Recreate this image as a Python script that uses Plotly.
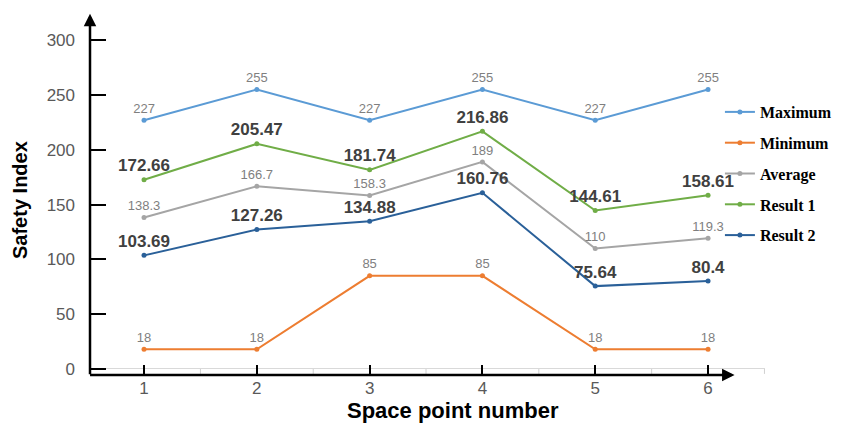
import plotly.graph_objects as go

# Safety index at each space point
points = [1, 2, 3, 4, 5, 6]
maximum = [227, 255, 227, 255, 227, 255]
minimum = [18, 18, 85, 85, 18, 18]
average = [138.3, 166.7, 158.3, 189, 110, 119.3]
result1 = [172.66, 205.47, 181.74, 216.86, 144.61, 158.61]
result2 = [103.69, 127.26, 134.88, 160.76, 75.64, 80.4]
y_ticks = [0, 50, 100, 150, 200, 250, 300]

series = [
    ("Maximum", maximum, "#5B9BD5", False),
    ("Minimum", minimum, "#ED7D31", False),
    ("Average", average, "#A5A5A5", False),
    ("Result 1", result1, "#70AD47", True),
    ("Result 2", result2, "#2A6099", True),
]

fig = go.Figure()
for i, (name, vals, color, emphasis) in enumerate(series):
    fig.add_trace(go.Scatter(
        x=points, y=vals, name=name, mode="lines+markers+text",
        line=dict(color=color, width=2),
        marker=dict(color=color, size=5),
        text=[f"{v:g}" for v in vals],
        textposition="top center",
        textfont=dict(family="Liberation Sans", size=17 if emphasis else 13,
                      color="#404040" if emphasis else "#7F7F7F",
                      weight="bold" if emphasis else "normal"),
        legendgroup=f"g{i}",
    ))

x_lo, x_hi = 0.521, 6.505
y_lo, y_hi = -6.4, 325.8

shapes = []
# small grey category-boundary ticks along the zero line
for k in range(len(points)):
    b = points[k] + 0.5
    shapes.append(dict(type="line", xref="x", yref="y", x0=b, x1=b, y0=0, y1=-4.5,
                       line=dict(color="#D0D0D0", width=1)))

annotations = [
    # vertical axis with arrowhead
    dict(xref="paper", yref="paper", x=0, y=0.995, ax=0, ay=362, axref="pixel", ayref="pixel",
         text="", showarrow=True, arrowhead=2, arrowsize=1, arrowwidth=2.5, arrowcolor="#000"),
    # horizontal axis with arrowhead
    dict(xref="x", yref="y", x=6.235, y=-5.5, ax=-646, ay=0, axref="pixel", ayref="pixel",
         text="", showarrow=True, arrowhead=2, arrowsize=1, arrowwidth=2.5, arrowcolor="#000"),
    dict(xref="paper", yref="paper", x=-0.1037, y=0.4835, text="Safety Index", textangle=-90,
         xanchor="center", yanchor="middle", showarrow=False,
         font=dict(family="Liberation Sans", size=20, color="#000", weight="bold")),
    dict(xref="paper", yref="paper", x=0.5378, y=-0.096, text="Space point number",
         xanchor="center", yanchor="middle", showarrow=False,
         font=dict(family="Liberation Sans", size=22, color="#000", weight="bold")),
]

fig.update_layout(
    width=843, height=426,
    margin=dict(l=90, r=78, t=12, b=50, autoexpand=False),
    paper_bgcolor="white", plot_bgcolor="white",
    shapes=shapes, annotations=annotations,
    showlegend=True,
    legend=dict(xref="container", yref="container", x=0.854, y=0.777,
                xanchor="left", yanchor="top",
                font=dict(family="Liberation Serif", size=16, color="#000", weight="bold"),
                traceorder="grouped", tracegroupgap=7, itemwidth=30,
                bgcolor="rgba(0,0,0,0)"),
    xaxis=dict(range=[x_lo, x_hi], tickvals=points, ticktext=[str(p) for p in points],
               showgrid=False, zeroline=False, showline=False,
               ticks="inside", ticklen=11, tickwidth=2, tickcolor="#000",
               tickfont=dict(family="Liberation Sans", size=17, color="#595959")),
    yaxis=dict(range=[y_lo, y_hi], tickvals=y_ticks, showgrid=False,
               zeroline=True, zerolinecolor="#D9D9D9", zerolinewidth=1, showline=False,
               ticks="inside", ticklen=16, tickwidth=2, tickcolor="#000",
               ticklabelstandoff=14,
               tickfont=dict(family="Liberation Sans", size=17, color="#595959")),
)

fig.write_html("out.html")
